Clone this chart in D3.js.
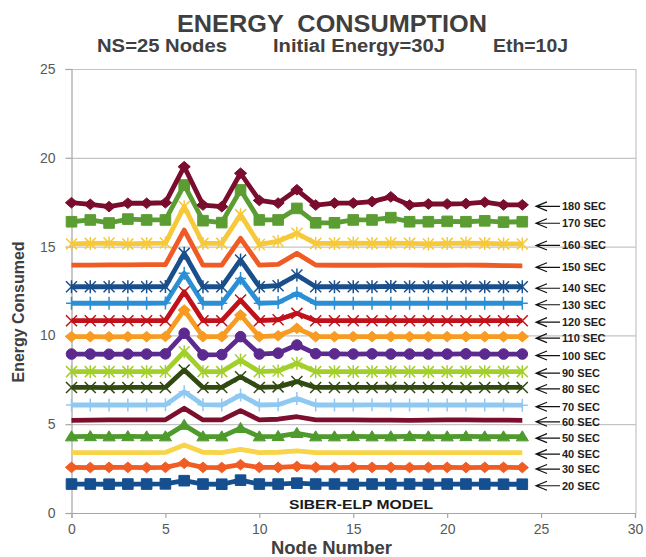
<!DOCTYPE html>
<html>
<head>
<meta charset="utf-8">
<script src="https://cdn.jsdelivr.net/npm/d3@7/dist/d3.min.js"></script>
<style>
  body { margin: 0; background: #fff; }
  svg { display: block; font-family: "Liberation Sans", Arial, sans-serif; }
</style>
</head>
<body>
<svg id="chart" width="646" height="557"></svg>
<script>
// Node index along the x axis
const nodes = [0,1,2,3,4,5,6,7,8,9,10,11,12,13,14,15,16,17,18,19,20,21,22,23,24];

// Energy consumed (J) per node at each simulation time
const e20  = [1.63,1.63,1.62,1.63,1.63,1.64,1.82,1.63,1.62,1.85,1.63,1.63,1.68,1.63,1.63,1.62,1.63,1.63,1.63,1.62,1.63,1.63,1.63,1.62,1.62];
const e30  = [2.57,2.56,2.57,2.57,2.56,2.57,2.80,2.57,2.56,2.72,2.57,2.57,2.62,2.57,2.56,2.57,2.57,2.57,2.56,2.57,2.57,2.56,2.57,2.57,2.56];
const e40  = [3.40,3.40,3.40,3.40,3.40,3.41,3.83,3.42,3.40,3.58,3.40,3.42,3.50,3.40,3.40,3.40,3.40,3.40,3.40,3.40,3.40,3.40,3.40,3.40,3.40];
const e50  = [4.30,4.31,4.30,4.31,4.30,4.30,4.95,4.30,4.30,4.77,4.30,4.32,4.49,4.30,4.30,4.31,4.30,4.30,4.31,4.30,4.30,4.31,4.30,4.30,4.30];
const e60  = [5.22,5.23,5.24,5.24,5.24,5.25,5.90,5.24,5.24,5.76,5.24,5.28,5.42,5.24,5.24,5.24,5.23,5.23,5.22,5.23,5.24,5.24,5.23,5.23,5.22];
const e70  = [6.08,6.08,6.08,6.08,6.08,6.09,6.83,6.10,6.08,6.64,6.08,6.10,6.45,6.08,6.08,6.08,6.09,6.08,6.08,6.08,6.08,6.08,6.08,6.08,6.07];
const e80  = [7.07,7.07,7.06,7.07,7.07,7.07,8.05,7.07,7.07,7.67,7.07,7.10,7.40,7.07,7.07,7.07,7.07,7.08,7.07,7.07,7.07,7.06,7.07,7.07,7.07];
const e90  = [7.96,7.96,7.96,7.96,7.96,7.97,9.08,7.96,7.96,8.61,7.96,8.00,8.43,7.96,7.96,7.96,7.96,7.96,7.96,7.96,7.96,7.96,7.96,7.96,7.96];
const e100 = [8.95,8.95,8.94,8.95,8.95,8.96,10.12,8.90,8.92,9.93,8.95,9.00,9.46,8.97,8.96,8.95,8.96,8.95,8.95,8.95,8.95,8.96,8.95,8.95,8.95];
const e110 = [9.93,9.93,9.92,9.93,9.93,9.94,11.43,9.93,9.93,11.15,9.93,9.98,10.40,9.93,9.93,9.93,9.93,9.93,9.93,9.93,9.93,9.93,9.93,9.93,9.93];
const e120 = [10.83,10.83,10.83,10.83,10.83,10.84,12.46,10.83,10.83,11.99,10.83,10.88,11.24,10.83,10.83,10.83,10.83,10.83,10.83,10.83,10.83,10.83,10.83,10.83,10.83];
const e130 = [11.81,11.81,11.81,11.81,11.81,11.82,13.50,11.81,11.81,13.20,11.81,11.85,12.37,11.81,11.81,11.81,11.81,11.81,11.81,11.81,11.81,11.81,11.81,11.81,11.81];
const e140 = [12.74,12.74,12.74,12.74,12.74,12.75,14.62,12.74,12.74,14.25,12.74,12.80,13.40,12.74,12.74,12.74,12.74,12.76,12.74,12.74,12.74,12.74,12.74,12.74,12.74];
const e150 = [13.96,13.96,13.97,13.97,13.98,13.98,15.93,13.96,13.96,15.47,13.96,14.00,14.62,13.96,13.95,13.95,13.95,13.96,13.96,13.95,13.95,13.96,13.95,13.93,13.92];
const e160 = [15.15,15.18,15.20,15.15,15.18,15.20,17.25,15.18,15.18,16.80,15.12,15.30,15.75,15.18,15.18,15.20,15.18,15.20,15.18,15.15,15.18,15.20,15.18,15.15,15.15];
const e170 = [16.40,16.50,16.33,16.55,16.50,16.50,18.47,16.46,16.35,18.19,16.50,16.50,17.15,16.34,16.34,16.50,16.50,16.63,16.40,16.40,16.42,16.40,16.45,16.38,16.40];
const e180 = [17.47,17.38,17.25,17.44,17.44,17.47,19.50,17.34,17.25,19.13,17.60,17.45,18.20,17.34,17.45,17.45,17.53,17.80,17.34,17.40,17.40,17.42,17.50,17.35,17.35];

const seriesNames = ["20 SEC","30 SEC","40 SEC","50 SEC","60 SEC","70 SEC","80 SEC","90 SEC","100 SEC",
                     "110 SEC","120 SEC","130 SEC","140 SEC","150 SEC","160 SEC","170 SEC","180 SEC"];
const seriesValues = [e20,e30,e40,e50,e60,e70,e80,e90,e100,e110,e120,e130,e140,e150,e160,e170,e180];

// Axis ticks
const xTicks = [0,5,10,15,20,25,30];
const yTicks = [0,5,10,15,20,25];

// Styling per series
const seriesColors = ["#164f8f","#f05c24","#f8d448","#4e9a2c","#7c0f2d","#8fc9f2","#314a12","#a3cf2c","#5c2a8e",
                      "#f79b22","#c1121c","#2a8fd4","#1a4f8b","#ef5b25","#f6c93a","#5b9d32","#7a0c2e"];
const seriesMarkers = ["square","diamond","none","triangle","none","plus","x","star","circle",
                       "diamond","x","plus","star","none","star","square","diamond"];

const svg = d3.select("#chart");
const plot = { left: 71.5, right: 635, top: 69, bottom: 513 };

const x = d3.scaleLinear().domain([0, 30]).range([plot.left, plot.right]);
const y = d3.scaleLinear().domain([0, 25]).range([plot.bottom, plot.top]);

// Gridlines
const grid = svg.append("g")
  .attr("transform", `translate(${plot.left},0)`)
  .call(d3.axisLeft(y).tickValues(yTicks.filter(v => v > 0)).tickSize(-(plot.right + 1 - plot.left)).tickFormat(""));
grid.select(".domain").remove();
grid.selectAll("line").attr("stroke", "#c4c4c4").attr("stroke-width", 1.2);

// Right edge of the plot area
svg.append("line")
  .attr("x1", plot.right + 1).attr("x2", plot.right + 1)
  .attr("y1", plot.top).attr("y2", plot.bottom)
  .attr("stroke", "#c4c4c4").attr("stroke-width", 1.2);

// Y axis
const yAxis = svg.append("g")
  .attr("transform", `translate(${plot.left},0)`)
  .call(d3.axisLeft(y).tickValues(yTicks).tickSize(6).tickPadding(10));
yAxis.select(".domain").attr("stroke", "#a6a6a6").attr("stroke-width", 1.2);
yAxis.selectAll(".tick line").attr("stroke", "#a6a6a6").attr("stroke-width", 1.2);
yAxis.selectAll("text").attr("fill", "#595959").style("font-size", "14px")
  .style("font-family", "'Liberation Sans', Arial, sans-serif");

// X axis
const xAxis = svg.append("g")
  .attr("transform", `translate(0,${plot.bottom})`)
  .call(d3.axisBottom(x).tickValues(xTicks).tickSize(5).tickPadding(6));
xAxis.select(".domain").attr("stroke", "#a6a6a6").attr("stroke-width", 1.2);
xAxis.selectAll(".tick line").attr("stroke", "#a6a6a6").attr("stroke-width", 1.2);
xAxis.selectAll("text").attr("fill", "#595959").style("font-size", "14px")
  .style("font-family", "'Liberation Sans', Arial, sans-serif");

// Marker shapes
function markerPath(type, r) {
  switch (type) {
    case "square":   return `M${-r},${-r}H${r}V${r}H${-r}Z`;
    case "diamond":  return `M0,${-r}L${r * 1.15},0L0,${r}L${-r * 1.15},0Z`;
    case "triangle": return `M0,${-r * 1.1}L${r * 1.15},${r * 0.8}L${-r * 1.15},${r * 0.8}Z`;
    case "circle":   return d3.symbol(d3.symbolCircle, Math.PI * r * r)();
    case "plus":     return `M0,${-r - 1}V${r + 1}M${-r},0H${r}`;
    case "x":        return `M${-r},${-r}L${r},${r}M${-r},${r}L${r},${-r}`;
    case "star":     return `M0,${-r - 1}V${r + 1}M${-r},${-r}L${r},${r}M${-r},${r}L${r},${-r}`;
    default:         return null;
  }
}
const openMarkers = new Set(["plus", "x", "star"]);

const line = d3.line().x((d, i) => x(nodes[i])).y(d => y(d));

const seriesG = svg.append("g");
seriesValues.forEach((vals, si) => {
  const color = seriesColors[si];
  const g = seriesG.append("g");
  g.append("path")
    .datum(vals)
    .attr("d", line)
    .attr("fill", "none")
    .attr("stroke", color)
    .attr("stroke-width", 4.8)
    .attr("stroke-linejoin", "round");
  const type = seriesMarkers[si];
  if (type !== "none") {
    const open = openMarkers.has(type);
    const r = open ? 5.5 : 5.3;
    g.selectAll("path.m")
      .data(vals)
      .join("path")
      .attr("class", "m")
      .attr("transform", (d, i) => `translate(${x(nodes[i])},${y(d)})`)
      .attr("d", markerPath(type, r))
      .attr("fill", open ? "none" : color)
      .attr("stroke", color)
      .attr("stroke-width", open ? 1.5 : 1);
  }
});

// Series labels with arrows at the right end of each line
const lab = svg.append("g");
seriesValues.forEach((vals, si) => {
  const ly = y(vals[vals.length - 1]) + 1.5;
  const tip = 536;
  lab.append("path")
    .attr("d", `M${tip},${ly}H${tip + 24}M${tip + 11},${ly - 4.5}L${tip},${ly}L${tip + 11},${ly + 4.5}`)
    .attr("fill", "none").attr("stroke", "#111").attr("stroke-width", 1.2);
  lab.append("text")
    .attr("x", tip + 26).attr("y", ly + 4)
    .attr("fill", "#1e1e1e")
    .style("font-size", "11px").style("font-weight", "bold")
    .text(seriesNames[si]);
});

// Titles
svg.append("text")
  .attr("x", 177).attr("y", 32)
  .attr("textLength", 310).attr("lengthAdjust", "spacingAndGlyphs")
  .style("white-space", "pre")
  .attr("fill", "#3f3f3f").style("font-size", "24px").style("font-weight", "bold")
  .text("ENERGY  CONSUMPTION");

const subs = [["NS=25 Nodes", 97, 130], ["Initial Energy=30J", 273, 172], ["Eth=10J", 493, 75]];
subs.forEach(([t, sx, len]) => {
  svg.append("text")
    .attr("x", sx).attr("y", 52)
    .attr("textLength", len).attr("lengthAdjust", "spacingAndGlyphs")
    .attr("fill", "#404040").style("font-size", "18px").style("font-weight", "bold")
    .text(t);
});

svg.append("text")
  .attr("x", 289).attr("y", 509)
  .attr("textLength", 144).attr("lengthAdjust", "spacingAndGlyphs")
  .attr("fill", "#1a1a1a").style("font-size", "13.5px").style("font-weight", "bold")
  .text("SIBER-ELP MODEL");

svg.append("text")
  .attr("x", 271).attr("y", 554)
  .attr("textLength", 121).attr("lengthAdjust", "spacingAndGlyphs")
  .attr("fill", "#404040").style("font-size", "17.5px").style("font-weight", "bold")
  .text("Node Number");

svg.append("text")
  .attr("transform", "translate(24,312) rotate(-90)")
  .attr("text-anchor", "middle")
  .attr("textLength", 141).attr("lengthAdjust", "spacingAndGlyphs")
  .attr("fill", "#404040").style("font-size", "16px").style("font-weight", "bold")
  .text("Energy Consumed");
</script>
</body>
</html>
